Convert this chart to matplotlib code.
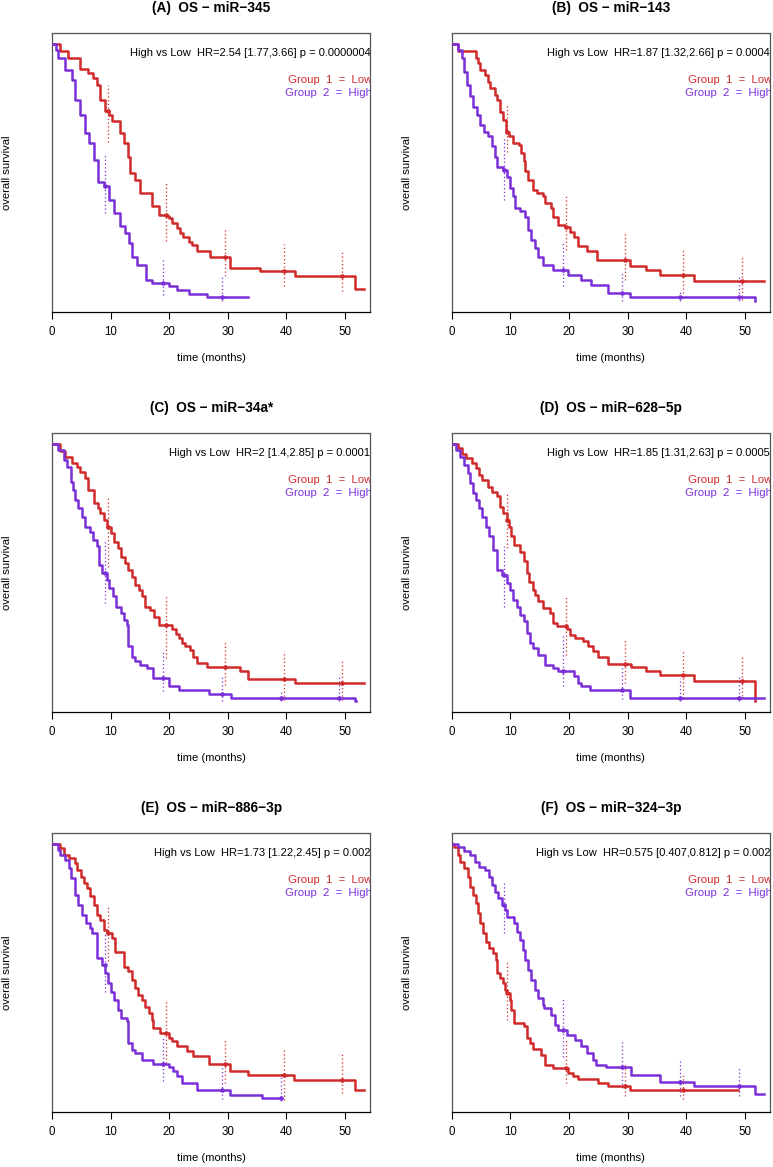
import numpy as np
import matplotlib.pyplot as plt

plt.rcParams['font.family'] = ['Liberation Sans', 'DejaVu Sans']

RED = '#d02a2a'
PURPLE = '#7b2fd8'

titles = ['(A)  OS \u2212 miR\u2212345', '(B)  OS \u2212 miR\u2212143',
          '(C)  OS \u2212 miR\u221234a*', '(D)  OS \u2212 miR\u2212628\u22125p',
          '(E)  OS \u2212 miR\u2212886\u22123p', '(F)  OS \u2212 miR\u2212324\u22123p']
hr_texts = ['High vs Low  HR=2.54 [1.77,3.66] p = 0.0000004',
            'High vs Low  HR=1.87 [1.32,2.66] p = 0.0004',
            'High vs Low  HR=2 [1.4,2.85] p = 0.0001',
            'High vs Low  HR=1.85 [1.31,2.63] p = 0.0005',
            'High vs Low  HR=1.73 [1.22,2.45] p = 0.002',
            'High vs Low  HR=0.575 [0.407,0.812] p = 0.002']
group_labels = ['Group  1  =  Low', 'Group  2  =  High']
x_ticks = [0, 10, 20, 30, 40, 50]
ci_times = [10, 20, 30, 40, 50]

# --- (A) miR-345 ---
a_low_t = [1.3, 2.8, 4.8, 6.2, 7.0, 7.7, 8.2, 9.1, 9.7, 10.2, 11.6, 12.2, 12.9, 13.3, 14.2, 15.0,
           17.0, 18.2, 19.6, 19.9, 20.5, 21.3, 21.9, 22.3, 23.3, 23.9, 24.7, 26.9, 30.4, 35.5, 41.5, 51.7]
a_low_s = [0.972, 0.944, 0.901, 0.886, 0.867, 0.841, 0.782, 0.737, 0.724, 0.698, 0.653, 0.614, 0.562,
           0.498, 0.472, 0.42, 0.369, 0.336, 0.33, 0.323, 0.306, 0.284, 0.264, 0.249, 0.232, 0.219,
           0.194, 0.174, 0.129, 0.116, 0.097, 0.048]
a_low_end = 53.3
a_high_t = [0.6, 1.1, 2.3, 3.4, 4.0, 4.8, 5.7, 6.3, 7.1, 7.8, 8.8, 9.7, 10.5, 11.6, 12.5, 13.1, 13.6,
            14.5, 16.0, 17.0, 19.9, 21.3, 23.3, 26.4]
a_high_s = [0.975, 0.943, 0.898, 0.859, 0.782, 0.724, 0.652, 0.614, 0.549, 0.465, 0.446, 0.394, 0.342,
            0.291, 0.265, 0.226, 0.174, 0.142, 0.084, 0.071, 0.058, 0.045, 0.030, 0.016]
a_high_end = 33.5
a_low_lo = [0.62, 0.236, 0.10, 0.058, 0.041]
a_low_hi = [0.84, 0.465, 0.28, 0.222, 0.194]
a_high_lo = [0.342, 0.026, 0.0, None, None]
a_high_hi = [0.575, 0.164, 0.10, None, None]

# --- (B) miR-143 ---
b_low_t = [1.1, 4.1, 4.5, 4.9, 5.6, 6.2, 6.6, 7.4, 7.8, 8.2, 8.8, 9.3, 9.7, 10.4, 11.4, 11.9, 12.3,
           12.5, 13.0, 13.8, 14.5, 15.5, 15.9, 17.0, 17.3, 18.2, 19.3, 20.2, 20.8, 21.6, 23.0, 24.8,
           30.4, 33.2, 35.5, 41.3]
b_low_s = [0.972, 0.943, 0.924, 0.898, 0.879, 0.853, 0.827, 0.80, 0.78, 0.736, 0.704, 0.659, 0.64,
           0.614, 0.607, 0.575, 0.543, 0.504, 0.472, 0.433, 0.42, 0.407, 0.381, 0.362, 0.329, 0.297,
           0.288, 0.271, 0.249, 0.216, 0.194, 0.161, 0.136, 0.12, 0.103, 0.081]
b_low_end = 53.3
b_high_t = [1.1, 1.7, 2.1, 2.6, 3.2, 3.7, 4.3, 4.8, 5.5, 6.2, 6.8, 7.4, 7.8, 8.8, 9.4, 10.0, 10.4,
            10.8, 11.6, 12.5, 13.0, 13.6, 14.2, 14.7, 15.6, 17.3, 19.9, 22.1, 23.8, 26.7, 30.4, 51.7]
b_high_s = [0.975, 0.943, 0.891, 0.84, 0.795, 0.756, 0.724, 0.685, 0.659, 0.64, 0.601, 0.562, 0.523,
            0.508, 0.484, 0.439, 0.407, 0.362, 0.349, 0.329, 0.278, 0.239, 0.207, 0.174, 0.142, 0.12,
            0.103, 0.084, 0.065, 0.032, 0.016, 0.0]
b_high_end = 51.8
b_low_lo = [0.58, 0.20, 0.084, 0.032, 0.006]
b_low_hi = [0.76, 0.41, 0.271, 0.20, 0.181]
b_high_lo = [0.394, 0.058, 0.0, 0.0, 0.0]
b_high_hi = [0.633, 0.226, 0.11, 0.045, 0.097]

# --- (C) miR-34a* ---
c_low_t = [1.3, 2.3, 3.4, 4.3, 4.8, 5.6, 6.2, 7.1, 7.8, 8.2, 8.8, 9.4, 10.0, 10.5, 11.2, 11.8, 12.5,
           13.0, 13.6, 14.2, 14.9, 15.3, 15.9, 16.8, 17.4, 18.2, 20.5, 21.1, 21.6, 22.1, 22.7, 23.6,
           24.1, 24.7, 26.4, 32.1, 33.5, 41.5]
c_low_s = [0.973, 0.947, 0.926, 0.908, 0.891, 0.866, 0.82, 0.769, 0.749, 0.73, 0.704, 0.678, 0.652,
           0.62, 0.594, 0.562, 0.536, 0.51, 0.484, 0.452, 0.433, 0.407, 0.368, 0.355, 0.327, 0.297,
           0.28, 0.262, 0.245, 0.226, 0.213, 0.198, 0.174, 0.149, 0.133, 0.116, 0.088, 0.071]
c_low_end = 53.3
c_high_t = [1.0, 2.0, 2.6, 3.2, 3.6, 4.0, 4.5, 5.1, 5.6, 6.4, 7.0, 7.7, 8.1, 8.5, 9.3, 9.8, 10.4,
            11.0, 11.7, 12.3, 12.8, 13.0, 13.6, 14.2, 15.0, 16.2, 17.2, 19.9, 21.7, 26.7, 30.6, 51.7]
c_high_s = [0.975, 0.937, 0.911, 0.853, 0.82, 0.782, 0.749, 0.717, 0.678, 0.659, 0.627, 0.601, 0.53,
            0.497, 0.472, 0.439, 0.407, 0.368, 0.342, 0.317, 0.297, 0.213, 0.174, 0.155, 0.142, 0.129,
            0.09, 0.061, 0.043, 0.03, 0.013, 0.0]
c_high_end = 51.8
c_low_lo = [0.523, 0.168, 0.065, 0.006, 0.006]
c_low_hi = [0.788, 0.413, 0.239, 0.194, 0.161]
c_high_lo = [0.381, 0.039, 0.0, 0.0, 0.0]
c_high_hi = [0.627, 0.194, 0.097, 0.045, 0.097]

# --- (D) miR-628-5p ---
d_low_t = [1.1, 1.7, 2.5, 3.4, 4.2, 4.7, 5.2, 6.2, 6.8, 7.7, 8.2, 8.8, 9.4, 9.8, 10.2, 10.6, 11.7,
           12.3, 12.8, 13.2, 13.8, 14.2, 14.7, 15.5, 16.8, 17.2, 17.9, 19.6, 20.2, 21.1, 22.4, 23.3,
           24.1, 25.0, 26.7, 30.6, 33.2, 35.6, 41.3, 51.7]
d_low_s = [0.982, 0.96, 0.943, 0.924, 0.904, 0.879, 0.859, 0.833, 0.814, 0.795, 0.756, 0.73, 0.704,
           0.678, 0.64, 0.607, 0.581, 0.543, 0.497, 0.465, 0.433, 0.413, 0.388, 0.362, 0.342, 0.304,
           0.291, 0.28, 0.258, 0.245, 0.233, 0.213, 0.194, 0.174, 0.146, 0.133, 0.116, 0.101, 0.08, 0.0]
d_low_end = 51.7
d_high_t = [0.7, 1.4, 2.1, 2.7, 3.2, 3.7, 4.2, 4.7, 5.2, 5.8, 6.4, 7.0, 7.8, 8.5, 9.4, 10.0, 10.5,
            11.1, 11.7, 12.3, 12.8, 13.3, 13.9, 14.7, 15.9, 17.3, 18.2, 20.8, 21.6, 22.1, 23.6, 30.4]
d_high_s = [0.975, 0.948, 0.917, 0.885, 0.846, 0.807, 0.782, 0.749, 0.717, 0.678, 0.64, 0.588, 0.51,
            0.491, 0.459, 0.433, 0.394, 0.368, 0.336, 0.31, 0.265, 0.226, 0.207, 0.181, 0.142, 0.129,
            0.116, 0.097, 0.071, 0.058, 0.043, 0.013]
d_high_end = 53.3
d_low_lo = [0.594, 0.181, 0.071, 0.013, 0.019]
d_low_hi = [0.807, 0.413, 0.245, 0.20, 0.181]
d_high_lo = [0.368, 0.058, 0.009, 0.0, 0.0]
d_high_hi = [0.601, 0.252, 0.136, 0.09, 0.103]

# --- (E) miR-886-3p ---
e_low_t = [1.3, 2.0, 2.9, 4.0, 4.3, 4.9, 5.5, 6.0, 6.5, 7.1, 7.7, 8.2, 8.8, 9.3, 10.2, 10.8, 12.3,
           13.0, 13.6, 14.2, 14.7, 15.3, 15.9, 16.5, 17.0, 17.3, 18.4, 19.9, 20.5, 21.4, 23.0, 24.1,
           26.7, 30.4, 33.5, 41.3, 51.7]
e_low_s = [0.982, 0.956, 0.943, 0.924, 0.898, 0.872, 0.846, 0.827, 0.795, 0.762, 0.724, 0.704, 0.665,
           0.652, 0.633, 0.581, 0.523, 0.504, 0.472, 0.439, 0.413, 0.394, 0.368, 0.342, 0.317, 0.284,
           0.265, 0.245, 0.233, 0.216, 0.194, 0.177, 0.145, 0.116, 0.101, 0.084, 0.043]
e_low_end = 53.3
e_high_t = [1.0, 1.3, 2.3, 2.9, 3.3, 3.9, 4.5, 5.1, 5.8, 6.4, 6.8, 7.7, 8.5, 9.1, 9.5, 10.0, 10.5,
            11.2, 11.7, 12.8, 13.0, 13.6, 14.2, 15.3, 17.3, 19.9, 20.7, 21.4, 22.1, 24.8, 30.4, 35.8]
e_high_s = [0.975, 0.956, 0.937, 0.904, 0.866, 0.801, 0.762, 0.724, 0.691, 0.672, 0.652, 0.556, 0.53,
            0.497, 0.459, 0.426, 0.394, 0.355, 0.323, 0.31, 0.226, 0.2, 0.187, 0.161, 0.146, 0.133,
            0.116, 0.097, 0.071, 0.043, 0.026, 0.013]
e_high_end = 39.0
e_low_lo = [0.543, 0.149, 0.071, 0.006, 0.032]
e_low_hi = [0.762, 0.388, 0.245, 0.20, 0.187]
e_high_lo = [0.426, 0.078, 0.009, 0.0, None]
e_high_hi = [0.659, 0.252, 0.142, 0.097, None]

# --- (F) miR-324-3p ---
f_low_t = [0.4, 1.1, 1.4, 2.1, 2.7, 3.2, 3.7, 4.2, 4.5, 4.9, 5.4, 5.8, 6.4, 7.0, 7.5, 7.8, 8.2, 8.7,
           9.1, 9.5, 10.0, 10.2, 10.6, 12.3, 12.8, 13.3, 13.8, 15.3, 15.9, 17.3, 19.9, 20.7, 21.6,
           25.0, 26.7, 30.4]
f_low_s = [0.988, 0.956, 0.93, 0.904, 0.872, 0.833, 0.801, 0.769, 0.73, 0.691, 0.652, 0.62, 0.594,
           0.575, 0.549, 0.497, 0.478, 0.459, 0.433, 0.42, 0.394, 0.355, 0.304, 0.291, 0.245, 0.226,
           0.203, 0.181, 0.142, 0.129, 0.112, 0.099, 0.088, 0.071, 0.058, 0.043]
f_low_end = 48.9
f_high_t = [1.1, 2.1, 3.2, 4.0, 4.7, 5.6, 6.4, 6.8, 7.4, 7.9, 8.5, 9.1, 9.5, 10.6, 11.1, 11.7, 12.1,
            12.5, 13.0, 13.6, 14.2, 14.7, 15.5, 15.7, 17.0, 17.6, 18.2, 19.6, 21.1, 22.1, 23.0, 24.1,
            24.7, 26.4, 30.6, 35.5, 41.3, 51.7]
f_high_s = [0.988, 0.973, 0.956, 0.93, 0.911, 0.898, 0.872, 0.84, 0.814, 0.788, 0.762, 0.743, 0.717,
            0.691, 0.659, 0.627, 0.588, 0.549, 0.51, 0.472, 0.433, 0.401, 0.375, 0.362, 0.336, 0.297,
            0.278, 0.258, 0.239, 0.213, 0.187, 0.161, 0.142, 0.133, 0.103, 0.074, 0.058, 0.03]
f_high_end = 53.3
f_low_lo = [0.317, 0.071, 0.019, 0.009, None]
f_low_hi = [0.543, 0.239, 0.149, 0.11, None]
f_high_lo = [0.652, 0.174, 0.052, 0.019, 0.019]
f_high_hi = [0.853, 0.40, 0.233, 0.161, 0.136]

panels = [
    (a_low_t, a_low_s, a_low_end, a_low_lo, a_low_hi, a_high_t, a_high_s, a_high_end, a_high_lo, a_high_hi),
    (b_low_t, b_low_s, b_low_end, b_low_lo, b_low_hi, b_high_t, b_high_s, b_high_end, b_high_lo, b_high_hi),
    (c_low_t, c_low_s, c_low_end, c_low_lo, c_low_hi, c_high_t, c_high_s, c_high_end, c_high_lo, c_high_hi),
    (d_low_t, d_low_s, d_low_end, d_low_lo, d_low_hi, d_high_t, d_high_s, d_high_end, d_high_lo, d_high_hi),
    (e_low_t, e_low_s, e_low_end, e_low_lo, e_low_hi, e_high_t, e_high_s, e_high_end, e_high_lo, e_high_hi),
    (f_low_t, f_low_s, f_low_end, f_low_lo, f_low_hi, f_high_t, f_high_s, f_high_end, f_high_lo, f_high_hi),
]


def surv_at(times, surv, x):
    i = np.searchsorted(times, x, side='right')
    return 1.0 if i == 0 else surv[i - 1]


def draw_group(ax, times, surv, end, lo, hi, color, shift):
    # confidence intervals (dotted) and the estimate dot
    for ct, l, h in zip(ci_times, lo, hi):
        if l is None:
            continue
        xt = ct + shift
        ax.plot([xt, xt], [l, h], color=color, lw=0.9, ls=(0, (1, 2)), zorder=2)
        ax.plot(xt, surv_at(times, surv, xt), 'o', color=color, ms=3.3, mec='none', zorder=4)
    xs = np.r_[0, times, end]
    ys = np.r_[1.0, surv, surv[-1]]
    ax.step(xs, ys, where='post', color=color, lw=1.8, zorder=3)


W, H = 773, 1167
fig = plt.figure(figsize=(W / 100, H / 100), dpi=100)

box_w, box_h = 318.3, 278.4
lefts = [52, 451.7]
tops = [33.3, 433.3, 833.3]

for k, data in enumerate(panels):
    row, col = divmod(k, 2)
    left, top = lefts[col], tops[row]
    ax = fig.add_axes([left / W, 1 - (top + box_h) / H, box_w / W, box_h / H])
    low_t, low_s, low_end, low_lo, low_hi, high_t, high_s, high_end, high_lo, high_hi = data

    draw_group(ax, low_t, low_s, low_end, low_lo, low_hi, RED, -0.5)
    draw_group(ax, high_t, high_s, high_end, high_lo, high_hi, PURPLE, -1.0)

    ax.set_xlim(0, 54.3)
    ax.set_ylim(-0.04, 1.04)
    ax.set_yticks([])
    ax.set_xticks(x_ticks)
    ax.tick_params(axis='x', direction='out', length=5, width=0.8, labelsize=8.3, pad=5)
    for side in ['left', 'top', 'right']:
        ax.spines[side].set_color('#555555')
        ax.spines[side].set_linewidth(0.9)
    ax.spines['bottom'].set_color('black')
    ax.spines['bottom'].set_linewidth(0.9)

    ax.text(0.5, 1 + 25 / box_h, titles[k], transform=ax.transAxes, ha='center', va='center',
            fontsize=9.8, fontweight='bold')
    ax.text(1.0, 1 - 20 / box_h, hr_texts[k], transform=ax.transAxes, ha='right', va='center',
            fontsize=8)
    ax.text(1.006, 1 - 46.7 / box_h, group_labels[0], transform=ax.transAxes, ha='right',
            va='center', fontsize=8.2, color=RED, clip_on=True)
    ax.text(1.006, 1 - 59.4 / box_h, group_labels[1], transform=ax.transAxes, ha='right',
            va='center', fontsize=8.2, color=PURPLE, clip_on=True)
    ax.text(-45 / box_w, 0.5, 'overall survival', transform=ax.transAxes, rotation=90,
            ha='center', va='center', fontsize=8.1)
    ax.text(0.5, -46.6 / box_h, 'time (months)', transform=ax.transAxes, ha='center',
            va='center', fontsize=8.1)

fig.savefig('out.png', dpi=100)
